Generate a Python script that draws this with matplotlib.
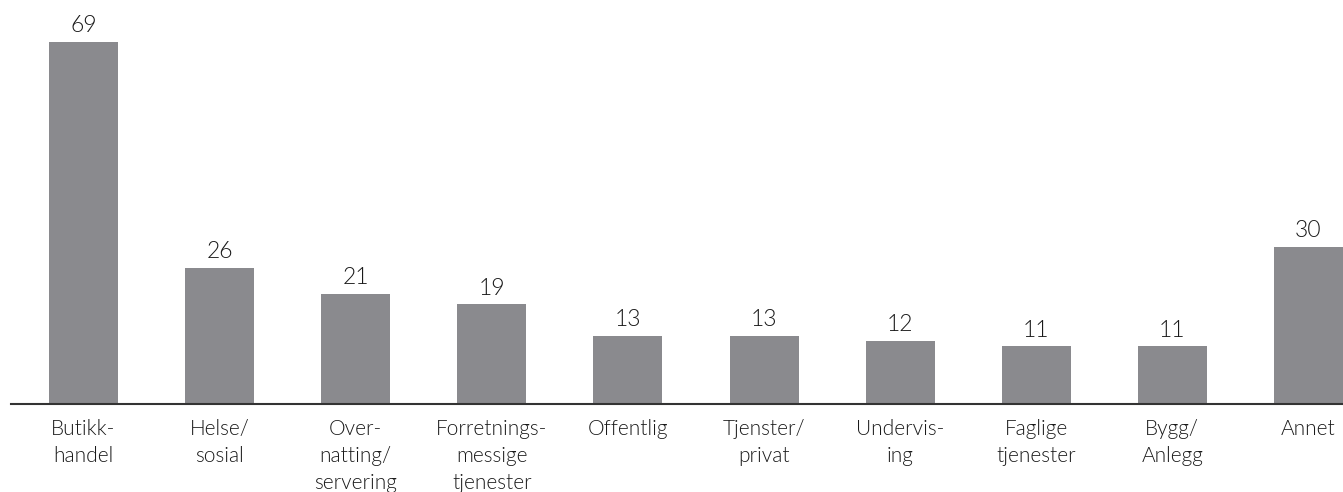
import matplotlib
matplotlib.use("Agg")
import matplotlib.pyplot as plt

categories = ["Butikk-\nhandel", "Helse/\nsosial", "Over-\nnatting/\nservering",
              "Forretnings-\nmessige\ntjenester", "Offentlig", "Tjenster/\nprivat",
              "Undervis-\ning", "Faglige\ntjenester", "Bygg/\nAnlegg", "Annet"]
values = [69, 26, 21, 19, 13, 13, 12, 11, 11, 30]

plt.rcParams['font.family'] = ['Lato', 'DejaVu Sans']

fig = plt.figure(figsize=(13.43, 4.92), dpi=100)
ax = fig.add_axes([0, 88/492, 1, 404/492])
x = list(range(len(values)))
ax.bar(x, values, width=0.507, color="#8a8a8e")
ax.set_xlim(-0.6135, 9.254)
ax.set_ylim(0, 77.0)
for s in ["top", "right", "left", "bottom"]:
    ax.spines[s].set_visible(False)
ax.axhline(0, xmin=11/1343, xmax=1, color="#333333", linewidth=1.5, clip_on=False)
ax.set_yticks([])
ax.set_xticks(x)
ax.set_xticklabels(categories, fontsize=15, linespacing=1.42, color="#1a1a1a",
                   fontweight=300)
ax.tick_params(axis="x", length=0, pad=11)
for xi, v in zip(x, values):
    ax.annotate(str(v), (xi, v), xytext=(0, 4), textcoords="offset points",
                ha="center", va="bottom", fontsize=16.5, color="#1a1a1a",
                fontweight=300)
fig.savefig("out.png", dpi=100)
